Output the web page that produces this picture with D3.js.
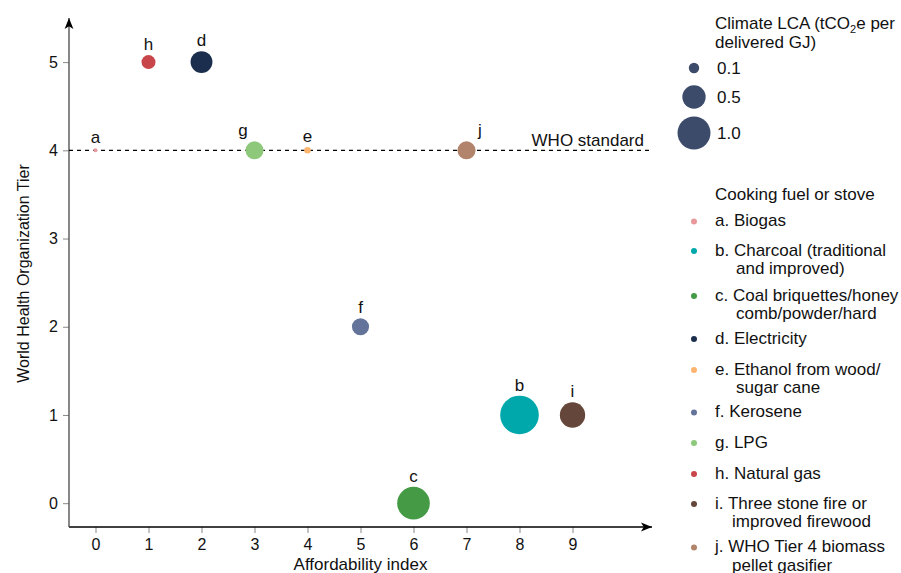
<!DOCTYPE html>
<html><head><meta charset="utf-8">
<script src="https://cdn.jsdelivr.net/npm/d3@7"></script>
<style>body{margin:0;background:#fff}svg{font-family:"Liberation Sans",Arial,Helvetica,sans-serif}</style>
</head><body><svg id="c" width="901" height="573"></svg>
<script>
const letters = ["a","b","c","d","e","f","g","h","i","j"];
const fuelNames = [
  ["a. Biogas"],
  ["b. Charcoal (traditional","and improved)"],
  ["c. Coal briquettes/honey","comb/powder/hard"],
  ["d. Electricity"],
  ["e. Ethanol from wood/","sugar cane"],
  ["f. Kerosene"],
  ["g. LPG"],
  ["h. Natural gas"],
  ["i. Three stone fire or","improved firewood"],
  ["j. WHO Tier 4 biomass","pellet gasifier"]
];
const affordability = [0, 8, 6, 2, 4, 5, 3, 1, 9, 7];
const whoTier = [4, 1, 0, 5, 4, 2, 4, 5, 1, 4];
const climateLCA = [0.015, 1.37, 0.98, 0.44, 0.04, 0.27, 0.30, 0.18, 0.59, 0.30];
const colors = ["#e8999b","#00a8ac","#459b45","#1c2e4d","#fdb46f","#63739a","#8ec87a","#c8454a","#64473a","#b2846c"];
const xTicks = [0,1,2,3,4,5,6,7,8,9];
const yTicks = [0,1,2,3,4,5];
const sizeLegend = [0.1, 0.5, 1.0];
const sizeLegendLabels = ["0.1","0.5","1.0"];
const whoStandard = 4;

const svg = d3.select("#c");
const x = d3.scaleLinear().domain([-0.5, 10.5]).range([69, 652]);
const y = d3.scaleLinear().domain([-0.27, 5.5]).range([527, 18]);
const r = d3.scaleSqrt().domain([0, 1]).range([0, 16.5]);

svg.append("defs").append("marker").attr("id","arr").attr("viewBox","0 0 10 10")
  .attr("refX",10).attr("refY",5).attr("markerWidth",11).attr("markerHeight",11)
  .attr("markerUnits","userSpaceOnUse").attr("orient","auto")
  .append("path").attr("d","M0,1 L10,5 L0,9 L2.5,5 Z").attr("fill","#000");

// x axis
const xAxis = svg.append("g").attr("transform","translate(0,527)")
  .call(d3.axisBottom(x).tickValues(xTicks).tickSize(6).tickPadding(6).tickFormat(d3.format("d")));
xAxis.select(".domain").remove();
xAxis.selectAll(".tick line").attr("stroke","#888");
xAxis.selectAll("text").attr("font-size",16).attr("fill","#111");
svg.append("line").attr("x1",69).attr("x2",652).attr("y1",527).attr("y2",527)
  .attr("stroke","#000").attr("stroke-width",1.3).attr("marker-end","url(#arr)");

// y axis
const yAxis = svg.append("g").attr("transform","translate(69,0)")
  .call(d3.axisLeft(y).tickValues(yTicks).tickSize(6).tickPadding(5).tickFormat(d3.format("d")));
yAxis.select(".domain").remove();
yAxis.selectAll(".tick line").attr("stroke","#888");
yAxis.selectAll("text").attr("font-size",16).attr("fill","#111");
svg.append("line").attr("x1",69).attr("x2",69).attr("y1",527).attr("y2",18)
  .attr("stroke","#555").attr("stroke-width",1.4).attr("marker-end","url(#arr)");

svg.append("text").attr("x",360.5).attr("y",570).attr("text-anchor","middle")
  .attr("font-size",17).attr("fill","#111").text("Affordability index");
svg.append("text").attr("transform","translate(29,273.5) rotate(-90)").attr("text-anchor","middle")
  .attr("font-size",16).attr("fill","#111").text("World Health Organization Tier");

// WHO standard line
svg.append("line").attr("x1",69).attr("x2",652).attr("y1",y(whoStandard)).attr("y2",y(whoStandard))
  .attr("stroke","#000").attr("stroke-width",1.2).attr("stroke-dasharray","4,4");
svg.append("text").attr("x",644).attr("y",y(whoStandard)-4).attr("text-anchor","end")
  .attr("font-size",17).attr("fill","#111").text("WHO standard");

const data = letters.map((l,i)=>({l, x:affordability[i], y:whoTier[i], v:climateLCA[i], c:colors[i]}));
const dx = {g:-11.5, j:13.5};
svg.append("g").selectAll("circle").data(data).join("circle")
  .attr("cx",d=>x(d.x)).attr("cy",d=>y(d.y)).attr("r",d=>r(d.v)).attr("fill",d=>d.c);
svg.append("g").selectAll("text").data(data).join("text")
  .attr("x",d=>x(d.x)+(dx[d.l]||0)).attr("y",d=>y(d.y)-Math.max(r(d.v),2.5)-5)
  .attr("text-anchor","middle").attr("font-size",17).attr("fill","#111").text(d=>d.l);

// size legend
const lg = svg.append("g");
const t1 = lg.append("text").attr("x",715).attr("y",29).attr("font-size",17).attr("fill","#111");
t1.append("tspan").text("Climate LCA (tCO");
t1.append("tspan").attr("font-size",11).attr("dy",4).text("2");
t1.append("tspan").attr("dy",-4).text("e per");
lg.append("text").attr("x",715).attr("y",48).attr("font-size",17).attr("fill","#111").text("delivered GJ)");
const sy = [68, 97, 133];
sizeLegend.forEach((v,i)=>{
  lg.append("circle").attr("cx",694).attr("cy",sy[i]).attr("r",r(v)).attr("fill","#3d4b6b");
  lg.append("text").attr("x",717).attr("y",sy[i]+5.5).attr("font-size",17).attr("fill","#111").text(sizeLegendLabels[i]);
});

// color legend
lg.append("text").attr("x",715).attr("y",200).attr("font-size",17).attr("fill","#111").text("Cooking fuel or stove");
const iy = [221.5, 251, 296, 339, 370, 412.5, 443, 474, 504, 547.5];
const indent = [736, 736, 736, 736, 736, 736, 736, 736, 732, 732];
fuelNames.forEach((lines,i)=>{
  lg.append("circle").attr("cx",694).attr("cy",iy[i]).attr("r",3).attr("fill",colors[i]);
  lines.forEach((s,k)=>{
    lg.append("text").attr("x",k===0?715:indent[i]).attr("y",iy[i]+4.5+k*18.5).attr("font-size",17).attr("fill","#111").text(s);
  });
});
</script></body></html>
